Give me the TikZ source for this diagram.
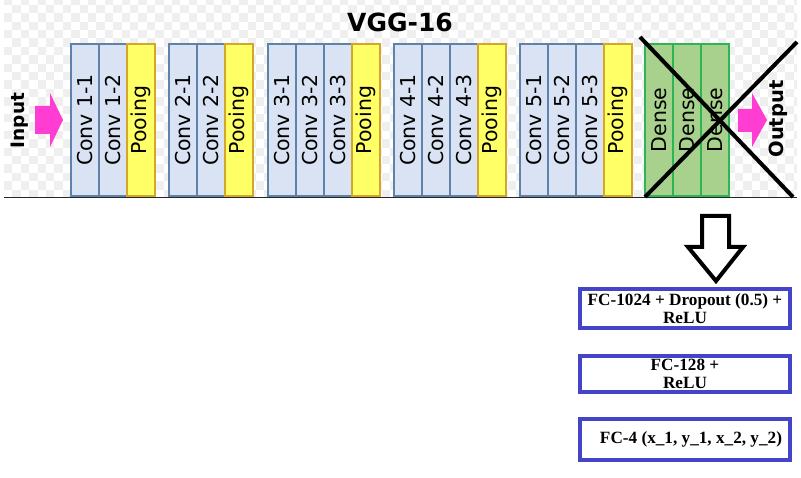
\documentclass[tikz,border=0pt]{standalone}
\usepackage{fontspec}
\setmainfont{Liberation Serif}
\newfontfamily\dv{DejaVu Sans}
\begin{document}
\begin{tikzpicture}[x=1pt,y=-1pt,
  every node/.style={inner sep=0pt,outer sep=0pt},
  layer/.style={draw,line width=1.4pt,rotate=90,minimum width=152pt,minimum height=28pt,
    font=\dv\fontsize{20.5}{24}\selectfont,text=black},
  conv/.style={layer,fill=convfill,draw=convedge},
  pool/.style={layer,fill=poolfill,draw=pooledge},
  dense/.style={layer,fill=densefill,draw=denseedge},
  fcbox/.style={draw=fcedge,line width=4pt,fill=white,minimum width=210pt,
    align=center,font=\bfseries\fontsize{17.2}{18.5}\selectfont},
  pinkarrow/.style={fill=pinkc,draw=none},
  cross/.style={line width=4pt,draw=black}
]
\definecolor{convfill}{HTML}{DAE3F3}
\definecolor{convedge}{HTML}{5E82AA}
\definecolor{poolfill}{HTML}{FFFF66}
\definecolor{pooledge}{HTML}{D6A62A}
\definecolor{densefill}{HTML}{A9D18E}
\definecolor{denseedge}{HTML}{2DB457}
\definecolor{fcedge}{HTML}{4444C8}
\definecolor{pinkc}{HTML}{FF3DD2}
\definecolor{checker}{HTML}{EFEFEF}
\useasboundingbox (0,0) rectangle (801,478);
\fill[white] (0,0) rectangle (801,478);
% checkerboard background
\begin{scope}
\clip (4,0) rectangle (797,196.5);
\foreach \i in {0,2,...,94}{
  \foreach \j in {0,2,...,24}{
    \fill[checker] ({4+\i*8.4},{-3.5+\j*8.4}) rectangle +(8.4,8.4);
    \fill[checker] ({4+(\i+1)*8.4},{-3.5+(\j+1)*8.4}) rectangle +(8.4,8.4);
  }
}
\end{scope}
% title
\node[font=\dv\bfseries\fontsize{25}{30}\selectfont] (title) at (400,22.5) {VGG-16};
% base line
\coordinate (bl) at (4,197.3);
\coordinate (br) at (797,197.3);
\draw[line width=1pt,draw=black!85] (bl) -- (br);
% block 1
\node[conv] (c11) at (85,120) {Conv 1-1};
\node[conv] (c12) at (113,120) {Conv 1-2};
\node[pool] (p1) at (141,120) {Pooing};
% block 2
\node[conv] (c21) at (183,120) {Conv 2-1};
\node[conv] (c22) at (211,120) {Conv 2-2};
\node[pool] (p2) at (239,120) {Pooing};
% block 3
\node[conv] (c31) at (282,120) {Conv 3-1};
\node[conv] (c32) at (310,120) {Conv 3-2};
\node[conv] (c33) at (338,120) {Conv 3-3};
\node[pool] (p3) at (366,120) {Pooing};
% block 4
\node[conv] (c41) at (408,120) {Conv 4-1};
\node[conv] (c42) at (436,120) {Conv 4-2};
\node[conv] (c43) at (464,120) {Conv 4-3};
\node[pool] (p4) at (492,120) {Pooing};
% block 5
\node[conv] (c51) at (534,120) {Conv 5-1};
\node[conv] (c52) at (562,120) {Conv 5-2};
\node[conv] (c53) at (590,120) {Conv 5-3};
\node[pool] (p5) at (618,120) {Pooing};
% dense
\node[dense] (d1) at (659,120) {Dense};
\node[dense] (d2) at (687,120) {Dense};
\node[dense] (d3) at (715,120) {Dense};
% input / output
\node[rotate=90,font=\dv\bfseries\fontsize{18.5}{22}\selectfont] (inp) at (20,120.5) {Input};
\fill[pinkarrow] (35,106) -- (50,106) -- (50,93) -- (63,120) -- (50,147) -- (50,134) -- (35,134) -- cycle;
\fill[pinkarrow] (738,109) -- (752,109) -- (752,93) -- (767,120) -- (752,147) -- (752,132) -- (738,132) -- cycle;
\node[rotate=90,font=\dv\bfseries\fontsize{19.5}{22}\selectfont] (outp) at (778,119) {Output};
% cross
\coordinate (x1) at (640,37);
\coordinate (x2) at (793,197);
\coordinate (x3) at (645,197);
\coordinate (x4) at (797,42);
\draw[cross] (x1) -- (x2);
\draw[cross] (x3) -- (x4);
% down arrow
\draw[line width=4pt,fill=white,line join=miter] (702,216) -- (729,216) -- (729,247) -- (743,247) -- (716,281) -- (688,247) -- (702,247) -- cycle;
% FC boxes
\node[fcbox,minimum height=39pt] (fc1) at (685,308.5) {FC-1024 + Dropout (0.5) +\\ReLU};
\node[fcbox,minimum height=36pt] (fc2) at (685,374) {FC-128 +\\ReLU};
\node[fcbox,minimum height=41pt] (fc3) at (685,439.5) {\hspace*{12pt}FC-4 (x\_1, y\_1, x\_2, y\_2)};
\end{tikzpicture}
\end{document}
